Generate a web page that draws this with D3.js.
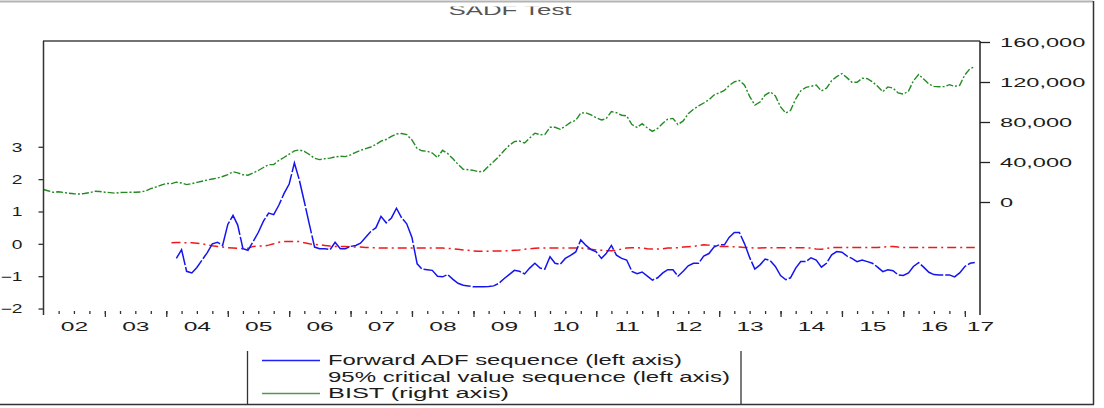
<!DOCTYPE html>
<html>
<head>
<meta charset="utf-8">
<script src="https://cdn.jsdelivr.net/npm/d3@7"></script>
<style>
body { margin: 0; background: #fff; }
text { font-family: "Liberation Sans", Arial, sans-serif; fill: #1c1c1c; }
</style>
</head>
<body>
<div id="chart"></div>
<script>
// monthly, Jan 2002 .. Mar 2017
var bist = [
  12500, 11000, 9700, 10200, 9600, 8700, 8200, 8000, 8500, 9300, 10700, 10500,
  9800, 9400, 8800, 9500, 9600, 9700, 9800, 10000, 11100, 13300, 15000, 16800,
  18600, 18400, 19900, 19000, 17400, 18400, 19600, 20800, 22000, 23000, 24000, 25500,
  27400, 30200, 29200, 27200, 26800, 29000, 31500, 34500, 37300, 37500, 41700, 44500,
  47800, 51100, 52100, 50700, 47500, 43700, 42400, 43300, 43900, 45100, 45700, 45400,
  47100, 49700, 51600, 53400, 55000, 57600, 60800, 62500, 65600, 68000, 68500, 67400,
  62000, 53300, 51200, 50700, 49000, 44500, 51700, 48400, 43200, 37700, 32700, 32300,
  31600, 30200, 30700, 35800, 40400, 45600, 51200, 56600, 60400, 61000, 59000, 64000,
  68800, 67300, 67400, 74700, 74700, 72700, 75800, 79600, 81600, 89000, 89200, 87100,
  84200, 82000, 83300, 90400, 89300, 86800, 86100, 77500, 74600, 78400, 74000, 70600,
  73600, 78700, 82800, 83600, 77400, 81100, 88200, 92700, 96100, 99000, 102200, 107000,
  109200, 111500, 116500, 120100, 121500, 116800, 105600, 97000, 100000, 106900, 110100, 106100,
  95100, 88900, 91500, 103000, 111100, 114700, 115700, 116900, 111000, 113800, 121400, 125400,
  128400, 124100, 119800, 119700, 123700, 123400, 120200, 115800, 110300, 115100, 113900, 109100,
  107900, 110900, 121200, 127400, 123000, 118000, 115600, 115300, 115400, 117300, 115700, 116600,
  127200, 133400, 135200
];

// forward ADF (BSADF) sequence, starts at month index 26
var adfStart = 26;
var adf = [
  -0.45, -0.18, -0.85, -0.9, -0.73, -0.5, -0.27, 0.0, 0.05, -0.05,
  0.6, 0.88, 0.58, -0.15, -0.2, 0.07, 0.35, 0.7, 0.95, 0.9,
  1.2, 1.55, 1.85, 2.5, 2.0, 1.3, 0.6, -0.1, -0.15, -0.15,
  -0.18, 0.05, -0.15, -0.15, -0.08, -0.05, 0.02, 0.2, 0.38, 0.5,
  0.85, 0.65, 0.8, 1.1, 0.8, 0.62, 0.2, -0.62, -0.78, -0.8,
  -0.82, -1.0, -1.02, -0.95, -1.1, -1.22, -1.28, -1.3, -1.33, -1.33,
  -1.33, -1.32, -1.3, -1.22, -1.08, -0.95, -0.82, -0.85, -0.93, -0.75,
  -0.6, -0.75, -0.78, -0.4, -0.6, -0.63, -0.45, -0.36, -0.25, 0.12,
  -0.05, -0.18, -0.25, -0.45, -0.3, -0.05, -0.35, -0.45, -0.5, -0.85,
  -0.92, -0.87, -1.0, -1.12, -1.05, -0.9, -0.8, -0.8, -1.0, -0.85,
  -0.68, -0.6, -0.6, -0.38, -0.3, -0.1, -0.03, -0.03, 0.2, 0.35,
  0.35, 0.0, -0.42, -0.78, -0.65, -0.47, -0.52, -0.7, -0.98, -1.11,
  -1.05, -0.75, -0.55, -0.55, -0.43, -0.5, -0.72, -0.6, -0.34, -0.24,
  -0.26, -0.38, -0.45, -0.55, -0.5, -0.55, -0.6, -0.72, -0.86, -0.8,
  -0.83, -0.96, -0.98, -0.9, -0.7, -0.58, -0.72, -0.88, -0.95, -0.96,
  -0.96, -0.96, -1.02, -0.9, -0.7, -0.6, -0.58
];

// 95% critical value sequence, starts at month index 25
var cvStart = 25;
var cv = [
  0.03, 0.04, 0.04, 0.03, 0.03, 0.02, 0.0, -0.03, -0.06, -0.08,
  -0.1, -0.12, -0.13, -0.14, -0.15, -0.14, -0.08, -0.07, -0.07, -0.04,
  0.0, 0.05, 0.07, 0.07, 0.07, 0.07, 0.03, 0.0, -0.02, -0.03,
  -0.05, -0.07, -0.08, -0.08, -0.08, -0.09, -0.1, -0.1, -0.11, -0.12,
  -0.12, -0.13, -0.13, -0.13, -0.13, -0.13, -0.13, -0.13, -0.13, -0.13,
  -0.13, -0.13, -0.13, -0.13, -0.14, -0.15, -0.17, -0.19, -0.2, -0.22,
  -0.23, -0.23, -0.23, -0.22, -0.22, -0.22, -0.21, -0.2, -0.19, -0.17,
  -0.15, -0.14, -0.13, -0.13, -0.13, -0.13, -0.13, -0.13, -0.13, -0.13,
  -0.13, -0.15, -0.17, -0.19, -0.2, -0.21, -0.21, -0.2, -0.16, -0.13,
  -0.12, -0.12, -0.13, -0.15, -0.16, -0.16, -0.15, -0.13, -0.13, -0.12,
  -0.1, -0.09, -0.08, -0.05, -0.03, -0.04, -0.06, -0.08, -0.08, -0.08,
  -0.09, -0.1, -0.11, -0.12, -0.13, -0.13, -0.12, -0.12, -0.12, -0.12,
  -0.12, -0.12, -0.12, -0.12, -0.12, -0.13, -0.16, -0.17, -0.14, -0.12,
  -0.11, -0.11, -0.11, -0.11, -0.11, -0.11, -0.11, -0.11, -0.11, -0.1,
  -0.09, -0.08, -0.1, -0.11, -0.11, -0.11, -0.11, -0.11, -0.11, -0.11,
  -0.11, -0.11, -0.11, -0.11, -0.11, -0.11, -0.11, -0.11
];

var leftTicks = [-2, -1, 0, 1, 2, 3];
var rightTicks = [0, 40000, 80000, 120000, 160000];
var yearLabels = ["02", "03", "04", "05", "06", "07", "08", "09", "10", "11", "12", "13", "14", "15", "16", "17"];
var legendNames = ["Forward ADF sequence (left axis)", "95% critical value sequence (left axis)", "BIST (right axis)"];

var title = "SADF Test";

var width = 1104;
var height = 408;

var blue = "#1414f0", red = "#f01818", green = "#228b22";

function month(i) { return new Date(2002, i, 1); }

var svg = d3.select("#chart")
  .append("svg")
  .attr("width", width)
  .attr("height", height);

var x = d3.scaleTime()
  .domain([new Date(2002, 0, 1), new Date(2017, 3, 1)])
  .range([43.5, 980]);
var yL = d3.scaleLinear().domain([-2.2, 6.27]).range([315, 41]);
var yR = d3.scaleLinear().domain([-113000, 161000]).range([315, 41]);

// title, top of it clipped by the outer frame
svg.append("text")
  .attr("x", 510).attr("y", 15)
  .attr("text-anchor", "middle")
  .attr("font-size", 15)
  .attr("textLength", 123).attr("lengthAdjust", "spacingAndGlyphs")
  .style("fill", "#555")
  .text(title);
svg.append("rect").attr("x", 0).attr("y", 0).attr("width", width).attr("height", 6.5).attr("fill", "#fff");

// series
var lineBist = d3.line()
  .x(function(d, i) { return x(month(i)); })
  .y(function(d) { return yR(d); });
var lineAdf = d3.line()
  .x(function(d, i) { return x(month(adfStart + i)); })
  .y(function(d) { return yL(d); });
var lineCv = d3.line()
  .x(function(d, i) { return x(month(cvStart + i)); })
  .y(function(d) { return yL(d); });

svg.append("path").datum(bist)
  .attr("d", lineBist)
  .attr("fill", "none").attr("stroke", green).attr("stroke-width", 1.4)
  .attr("stroke-dasharray", "7,2,2,2");
svg.append("path").datum(cv)
  .attr("d", lineCv)
  .attr("fill", "none").attr("stroke", red).attr("stroke-width", 1.5)
  .attr("stroke-dasharray", "9,4,2,4");
svg.append("path").datum(adf)
  .attr("d", lineAdf)
  .attr("fill", "none").attr("stroke", blue).attr("stroke-width", 1.5)
  .attr("stroke-dasharray", "26,2");

// frame top
svg.append("line")
  .attr("x1", 43).attr("x2", 980).attr("y1", 41).attr("y2", 41)
  .attr("stroke", "#444").attr("stroke-width", 1.5);

// left axis
var gl = svg.append("g")
  .attr("transform", "translate(43.5,0)")
  .call(d3.axisLeft(yL).tickValues(leftTicks).tickSize(5).tickFormat(d3.format("d")));
gl.select(".domain").attr("d", "M0,41V315").attr("stroke", "#333").attr("stroke-width", 1.5);
gl.selectAll(".tick line").attr("stroke", "#333").attr("stroke-width", 1.3);
gl.selectAll(".tick text")
  .attr("x", 0).attr("dy", "0.36em")
  .attr("transform", "translate(-21,0) scale(1.6,1)")
  .attr("font-size", 12)
  .style("fill", "#1c1c1c");

// right axis
var gr = svg.append("g")
  .attr("transform", "translate(980,0)")
  .call(d3.axisRight(yR).tickValues(rightTicks).tickSize(10).tickFormat(d3.format(",")));
gr.select(".domain").attr("d", "M0,41V315").attr("stroke", "#222").attr("stroke-width", 1.5);
gr.selectAll(".tick line").attr("stroke", "#222").attr("stroke-width", 1.3);
gr.selectAll(".tick text")
  .attr("x", 0).attr("dy", "0.36em")
  .attr("transform", "translate(20,0) scale(1.75,1)")
  .attr("font-size", 13.5)
  .style("fill", "#1c1c1c");

// bottom: quarter ticks, year ticks, labels
var quarters = d3.timeMonth.every(3).range(new Date(2002, 3, 1), new Date(2017, 3, 1));
var years = d3.timeYear.range(new Date(2003, 0, 1), new Date(2017, 3, 1));
var end = x.domain()[1];
var labelDates = yearLabels.map(function(s, i) {
  var mid = new Date(2002 + i, 6, 1);
  return mid > end ? end : mid;
});

var gq = svg.append("g").attr("transform", "translate(0,311)")
  .call(d3.axisBottom(x).tickValues(quarters).tickSize(3).tickFormat(""));
var gy = svg.append("g").attr("transform", "translate(0,311)")
  .call(d3.axisBottom(x).tickValues(years).tickSize(6).tickFormat(""));
[gq, gy].forEach(function(g) {
  g.select(".domain").remove();
  g.selectAll(".tick line").attr("stroke", "#333").attr("stroke-width", 1.3);
});
var gx = svg.append("g").attr("transform", "translate(0,311)")
  .call(d3.axisBottom(x).tickValues(labelDates).tickSize(0)
    .tickFormat(function(d, i) { return yearLabels[i]; }));
gx.select(".domain").remove();
gx.selectAll(".tick text")
  .attr("y", 0).attr("dy", 0)
  .attr("transform", "translate(0,19.5) scale(2.05,1)")
  .attr("font-size", 12)
  .style("fill", "#1c1c1c");

// legend
var lg = svg.append("g");
lg.append("line").attr("x1", 247.5).attr("x2", 247.5).attr("y1", 351).attr("y2", 404)
  .attr("stroke", "#333").attr("stroke-width", 1.3);
lg.append("line").attr("x1", 741).attr("x2", 741).attr("y1", 351).attr("y2", 404)
  .attr("stroke", "#333").attr("stroke-width", 1.3);
var legendColors = ["#2020ff", "none", "#4f9a4f"];
var legendWidths = [354, 402, 181];
legendNames.forEach(function(name, i) {
  var yy = 360.5 + i * 16.5;
  if (legendColors[i] !== "none") {
    lg.append("line").attr("x1", 262).attr("x2", 320).attr("y1", yy).attr("y2", yy)
      .attr("stroke", legendColors[i]).attr("stroke-width", 1.5);
  }
  lg.append("text")
    .attr("x", 328).attr("y", yy + 4.5)
    .attr("font-size", 14)
    .attr("textLength", legendWidths[i]).attr("lengthAdjust", "spacingAndGlyphs")
    .text(name);
});

// outer frame
svg.append("line").attr("x1", 0).attr("x2", 1093).attr("y1", 1.5).attr("y2", 1.5)
  .attr("stroke", "#b4b4b4").attr("stroke-width", 2);
svg.append("line").attr("x1", 1093.5).attr("x2", 1093.5).attr("y1", 1).attr("y2", 404.5)
  .attr("stroke", "#333").attr("stroke-width", 1.5);
svg.append("line").attr("x1", 0).attr("x2", 1094).attr("y1", 404.5).attr("y2", 404.5)
  .attr("stroke", "#333").attr("stroke-width", 1.5);
</script>
</body>
</html>
